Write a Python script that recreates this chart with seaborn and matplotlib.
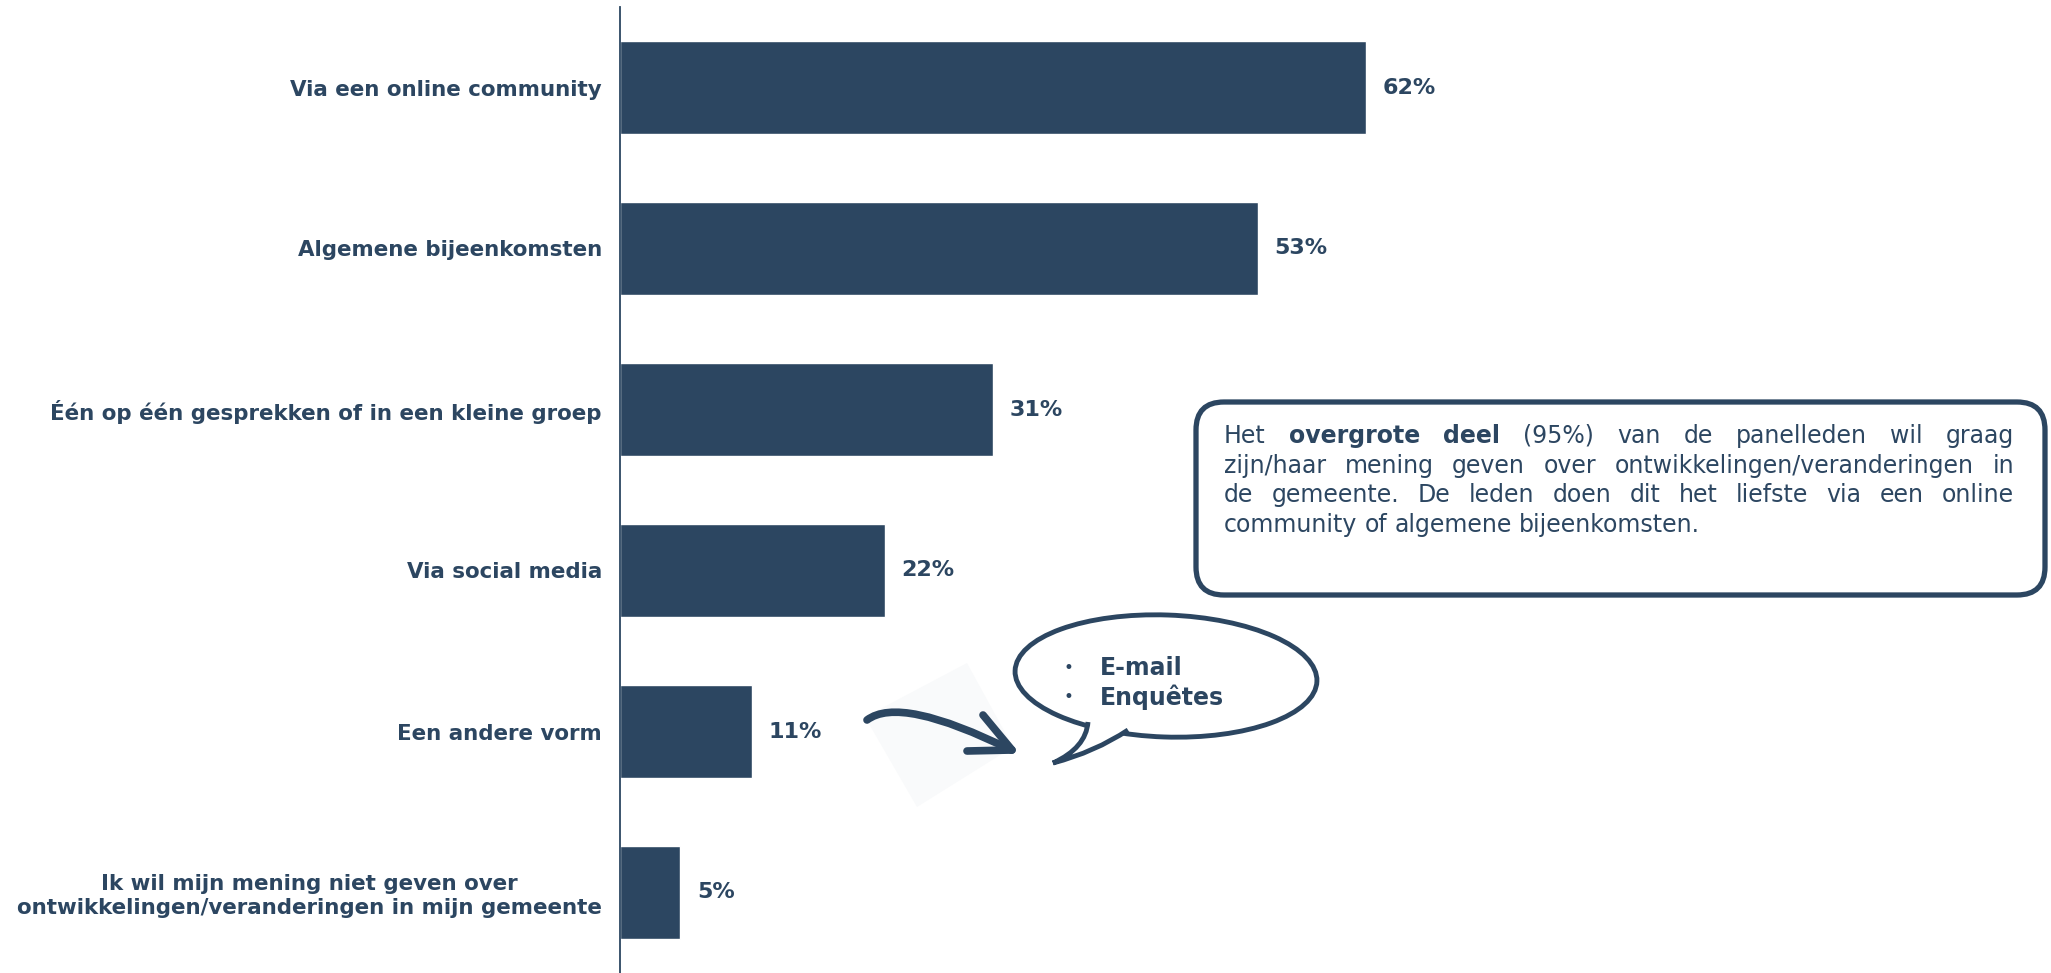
import matplotlib
matplotlib.use("Agg")
import matplotlib.pyplot as plt
import seaborn as sns
import pandas as pd
from matplotlib.patches import FancyBboxPatch, Ellipse, Polygon, PathPatch
from matplotlib.path import Path

# --- data ---
categories = [
    "Via een online community",
    "Algemene bijeenkomsten",
    "Één op één gesprekken of in een kleine groep",
    "Via social media",
    "Een andere vorm",
    "Ik wil mijn mening niet geven over\nontwikkelingen/veranderingen in mijn gemeente",
]
values = [62, 53, 31, 22, 11, 5]
bubble_items = ["E-mail", "Enquêtes"]
note_lines = [
    [("Het", "normal"), ("overgrote", "bold"), ("deel", "bold"), ("(95%)", "normal"),
     ("van", "normal"), ("de", "normal"), ("panelleden", "normal"), ("wil", "normal"), ("graag", "normal")],
    [(w, "normal") for w in "zijn/haar mening geven over ontwikkelingen/veranderingen in".split()],
    [(w, "normal") for w in "de gemeente. De leden doen dit het liefste via een online".split()],
    [(w, "normal") for w in "community of algemene bijeenkomsten.".split()],
]

NAVY = "#2C4661"
W, H = 2051, 973

sns.set_theme(style="white")
plt.rcParams["font.family"] = ["DejaVu Sans"]

fig = plt.figure(figsize=(W / 100, H / 100), dpi=100)
ax = fig.add_axes([620 / W, 0, 1203 / W, 1 - 7 / H])

df = pd.DataFrame({"cat": categories, "val": values})
sns.barplot(data=df, x="val", y="cat", color=NAVY, saturation=1, width=0.575, ax=ax)
ax.set_xlim(0, 100)
ax.set_ylim(5.5, -0.5)
ax.set_xlabel("")
ax.set_ylabel("")
ax.set_xticks([])
for s in ["top", "right", "bottom"]:
    ax.spines[s].set_visible(False)
ax.spines["left"].set_color(NAVY)
ax.spines["left"].set_linewidth(1.3)
ax.tick_params(axis="y", length=0, pad=13)
for lab in ax.get_yticklabels():
    lab.set_fontweight("bold")
    lab.set_fontsize(15.4)
    lab.set_color(NAVY)
    lab.set_multialignment("center")
    lab.set_linespacing(1.25)
ax.bar_label(ax.containers[0], fmt="%g%%", padding=12, fontsize=16,
             fontweight="bold", color=NAVY)

# --- overlay in pixel coordinates for annotations ---
ov = fig.add_axes([0, 0, 1, 1], facecolor="none")
ov.set_xlim(0, W)
ov.set_ylim(H, 0)
ov.axis("off")

# note box
box = FancyBboxPatch((1196, 402), 849, 193, boxstyle="round,pad=0,rounding_size=28",
                     fc="white", ec=NAVY, lw=3.8)
ov.add_patch(box)

renderer = fig.canvas.get_renderer()
x0, x1 = 1224, 2014
y_first, line_gap = 436, 29.7
fs_note = 17
for i, line in enumerate(note_lines):
    y = y_first + i * line_gap
    texts = [ov.text(0, y, w, fontsize=fs_note, fontweight=wt, color=NAVY,
                     va="center", ha="left") for w, wt in line]
    widths = [t.get_window_extent(renderer).width for t in texts]
    if i < len(note_lines) - 1:
        gap = (x1 - x0 - sum(widths)) / (len(texts) - 1)
    else:
        gap = fs_note * 0.42
    x = x0
    for t, wd in zip(texts, widths):
        t.set_x(x)
        x += wd + gap

# faint background square behind arrow
ov.add_patch(Polygon([(865, 717), (967, 663), (1013, 747), (917, 807)],
                     closed=True, fc="#f9fafb", ec="none", zorder=0))

# hand-drawn style arrow
curve = Path([(867, 720), (900, 695), (1011, 750)],
             [Path.MOVETO, Path.CURVE3, Path.CURVE3])
ov.add_patch(PathPatch(curve, fc="none", ec=NAVY, lw=5.5, capstyle="round"))
ov.plot([983, 1012], [715, 750], color=NAVY, lw=5.5, solid_capstyle="round")
ov.plot([967, 1012], [751, 750], color=NAVY, lw=5.5, solid_capstyle="round")

# speech bubble
ov.add_patch(Ellipse((1166, 676), 302, 122, angle=2, fc="white", ec=NAVY, lw=3.5))
tail = Path([(1088, 722), (1086, 748), (1053, 763),
             (1095, 752), (1128, 730)],
            [Path.MOVETO, Path.CURVE3, Path.CURVE3,
             Path.CURVE3, Path.CURVE3])
ov.add_patch(PathPatch(tail, fc="white", ec=NAVY, lw=3.5, joinstyle="miter"))
for j, item in enumerate(bubble_items):
    y = 668 + j * 29
    ov.text(1068, y, "•", fontsize=12, color=NAVY, va="center", ha="center")
    ov.text(1100, y, item, fontsize=17, fontweight="bold", color=NAVY, va="center", ha="left")

fig.savefig("out.png", dpi=100)
